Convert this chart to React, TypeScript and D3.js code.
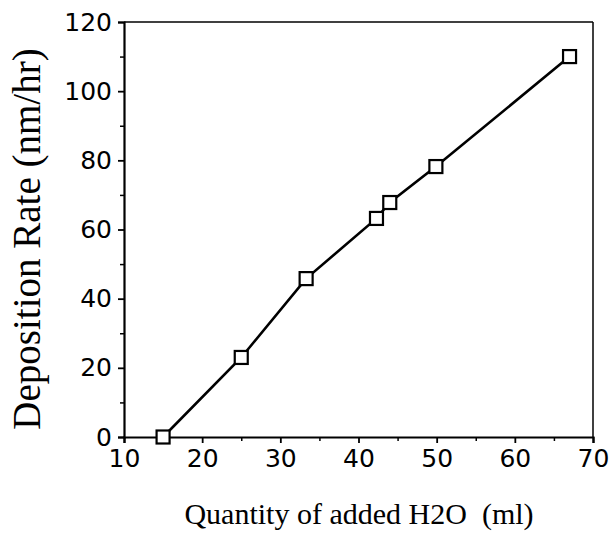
import React, { useRef, useEffect } from 'react';
import * as d3 from 'd3';

const waterMl = [15, 25, 33.3, 42.3, 44, 49.9, 67];
const depositionRate = [0, 23, 45.8, 63.2, 67.8, 78.2, 110];
const xTicks = [10, 20, 30, 40, 50, 60, 70];
const yTicks = [0, 20, 40, 60, 80, 100, 120];

const App = () => {
  const ref = useRef<SVGSVGElement>(null);

  useEffect(() => {
    const svg = d3.select(ref.current);
    svg.selectAll('*').remove();

    const left = 124, right = 593, top = 22, bottom = 437;
    const x = d3.scaleLinear().domain([10, 70]).range([left, right]);
    const y = d3.scaleLinear().domain([0, 120]).range([bottom, top]);

    const data = waterMl.map((v, i) => ({ x: v, y: depositionRate[i] }));
    const tickFont = 'DejaVu Sans, Verdana, sans-serif';
    const titleFont = 'Liberation Serif, Times New Roman, serif';

    // frame top/right
    svg.append('line').attr('x1', left).attr('x2', right).attr('y1', top).attr('y2', top)
      .attr('stroke', '#000').attr('stroke-width', 1.5);
    svg.append('line').attr('x1', right).attr('x2', right).attr('y1', top).attr('y2', bottom)
      .attr('stroke', '#000').attr('stroke-width', 1.5);

    const xAxis = d3.axisBottom(x).tickValues(xTicks).tickSize(6).tickPadding(6)
      .tickFormat(d3.format('d'));
    const gx = svg.append('g').attr('transform', `translate(0,${bottom})`).call(xAxis);
    gx.select('.domain').attr('stroke-width', 2.2);
    gx.selectAll('.tick line').attr('stroke-width', 1.8);
    gx.selectAll('text').attr('font-family', tickFont)
      .attr('font-size', '25px').attr('fill', '#000');

    const xMinor = d3.axisBottom(x).tickValues([15, 25, 35, 45, 55, 65]).tickSize(4).tickFormat(() => '');
    const gxm = svg.append('g').attr('transform', `translate(0,${bottom})`).call(xMinor);
    gxm.select('.domain').remove();
    gxm.selectAll('.tick line').attr('stroke-width', 1.5);

    const yAxis = d3.axisLeft(y).tickValues(yTicks).tickSize(6).tickPadding(6);
    const gy = svg.append('g').attr('transform', `translate(${left},0)`).call(yAxis);
    gy.select('.domain').attr('stroke-width', 2.2);
    gy.selectAll('.tick line').attr('stroke-width', 1.8);
    gy.selectAll('text').attr('font-family', tickFont)
      .attr('font-size', '25px').attr('fill', '#000');

    const yMinor = d3.axisLeft(y).tickValues([10, 30, 50, 70, 90, 110]).tickSize(4).tickFormat(() => '');
    const gym = svg.append('g').attr('transform', `translate(${left},0)`).call(yMinor);
    gym.select('.domain').remove();
    gym.selectAll('.tick line').attr('stroke-width', 1.5);

    const line = d3.line<{ x: number; y: number }>().x((d) => x(d.x)).y((d) => y(d.y));
    svg.append('path').datum(data).attr('d', line).attr('fill', 'none')
      .attr('stroke', '#000').attr('stroke-width', 2.6);

    const s = 13;
    svg.selectAll('rect.pt').data(data).enter().append('rect')
      .attr('class', 'pt')
      .attr('x', (d) => x(d.x) - s / 2).attr('y', (d) => y(d.y) - s / 2)
      .attr('width', s).attr('height', s)
      .attr('fill', '#fff').attr('stroke', '#000').attr('stroke-width', 2.2);

    svg.append('text').attr('x', 359).attr('y', 524).attr('text-anchor', 'middle')
      .attr('font-family', titleFont).attr('font-size', '30px')
      .attr('xml:space', 'preserve')
      .text('Quantity of added H2O  (ml)');

    svg.append('text').attr('transform', 'translate(40,239) rotate(-90)').attr('text-anchor', 'middle')
      .attr('font-family', titleFont).attr('font-size', '39px')
      .text('Deposition Rate (nm/hr)');
  }, []);

  return (
    <div style={{ position: 'absolute', left: 0, top: 0 }}>
      <svg ref={ref} width={613} height={534} style={{ display: 'block', background: '#fff' }} />
    </div>
  );
};

export default App;
